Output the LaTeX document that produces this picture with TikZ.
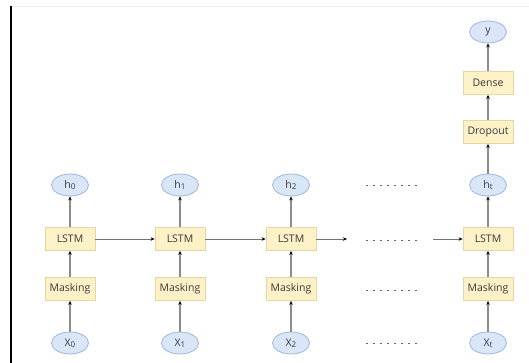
\documentclass[tikz,border=0pt]{standalone}
\usepackage{fontspec}
\setmainfont{Open Sans}
\usetikzlibrary{arrows.meta,shapes.geometric}
\definecolor{boxfill}{HTML}{FDF1C8}
\definecolor{boxline}{HTML}{E6D6A2}
\definecolor{ellfill}{HTML}{D9E6F7}
\definecolor{ellline}{HTML}{9FB7D8}
\definecolor{txt}{HTML}{3A3A3A}
\newcommand{\subidx}[1]{\raisebox{-0.25ex}{\fontsize{8}{9}\selectfont #1}}
\tikzset{
  layer/.style={draw=boxline, fill=boxfill, line width=0.8pt, minimum width=50pt, minimum height=23pt, inner sep=1pt, text=txt, font=\fontsize{10.5}{12}\selectfont},
  state/.style={ellipse, draw=ellline, fill=ellfill, line width=0.8pt, minimum width=37pt, minimum height=22pt, inner sep=0pt, text=txt, font=\fontsize{10.5}{12}\selectfont},
  uparrow/.style={draw=black!45, line width=1.4pt, -{Stealth[length=4pt,width=3.5pt,black]}},
  sidearrow/.style={draw=black!55, line width=0.6pt, -{Stealth[length=4pt,width=3.5pt,black]}},
  dotline/.style={draw=black!60, line width=0.8pt, dash pattern=on 1.6pt off 5.4pt},
}
\begin{document}
\begin{tikzpicture}[x=1pt,y=-1pt]
\useasboundingbox (0,0) rectangle (529,363);
\fill[white] (0,0) rectangle (529,363);
\draw[black!6, line width=0.8pt] (11,6) -- (529,6);
\draw[black, line width=1.6pt] (11,6) -- (11,363);

% column 0
\node[state] (h0) at (70,185) {h\subidx{0}};
\node[layer] (l0) at (70,239) {LSTM};
\node[layer] (m0) at (70,289) {Masking};
\node[state] (x0) at (70,343) {X\subidx{0}};
% column 1
\node[state] (h1) at (180,185) {h\subidx{1}};
\node[layer] (l1) at (180,239) {LSTM};
\node[layer] (m1) at (180,289) {Masking};
\node[state] (x1) at (180,343) {X\subidx{1}};
% column 2
\node[state] (h2) at (291,185) {h\subidx{2}};
\node[layer] (l2) at (291,239) {LSTM};
\node[layer] (m2) at (291,289) {Masking};
\node[state] (x2) at (291,343) {X\subidx{2}};
% column t
\node[state] (ht) at (488,185) {h\subidx{t}};
\node[layer] (lt) at (488,239) {LSTM};
\node[layer] (mt) at (488,289) {Masking};
\node[state] (xt) at (488,343) {X\subidx{t}};
\node[layer] (drop) at (488,132) {Dropout};
\node[layer] (dense) at (488,83) {Dense};
\node[state] (y) at (488,32) {y};

% vertical arrows
\foreach \c in {0,1,2,t}{
  \draw[uparrow] (x\c) -- (m\c);
  \draw[uparrow] (m\c) -- (l\c);
  \draw[uparrow] (l\c) -- (h\c);
}
\draw[uparrow] (ht) -- (drop);
\draw[uparrow] (drop) -- (dense);
\draw[uparrow] (dense) -- (y);

% horizontal arrows
\coordinate (a2) at (347,239);
\coordinate (bt) at (433,239);
\draw[sidearrow] (l0) -- (l1);
\draw[sidearrow] (l1) -- (l2);
\draw[sidearrow] (l2) -- (a2);
\draw[sidearrow] (bt) -- (lt);

% dots
\foreach \yy [count=\i] in {185,240,290,343}{
  \coordinate (d\i a) at (366,\yy);
  \coordinate (d\i b) at (421,\yy);
  \draw[dotline] (d\i a) -- (d\i b);
}
\end{tikzpicture}
\end{document}
